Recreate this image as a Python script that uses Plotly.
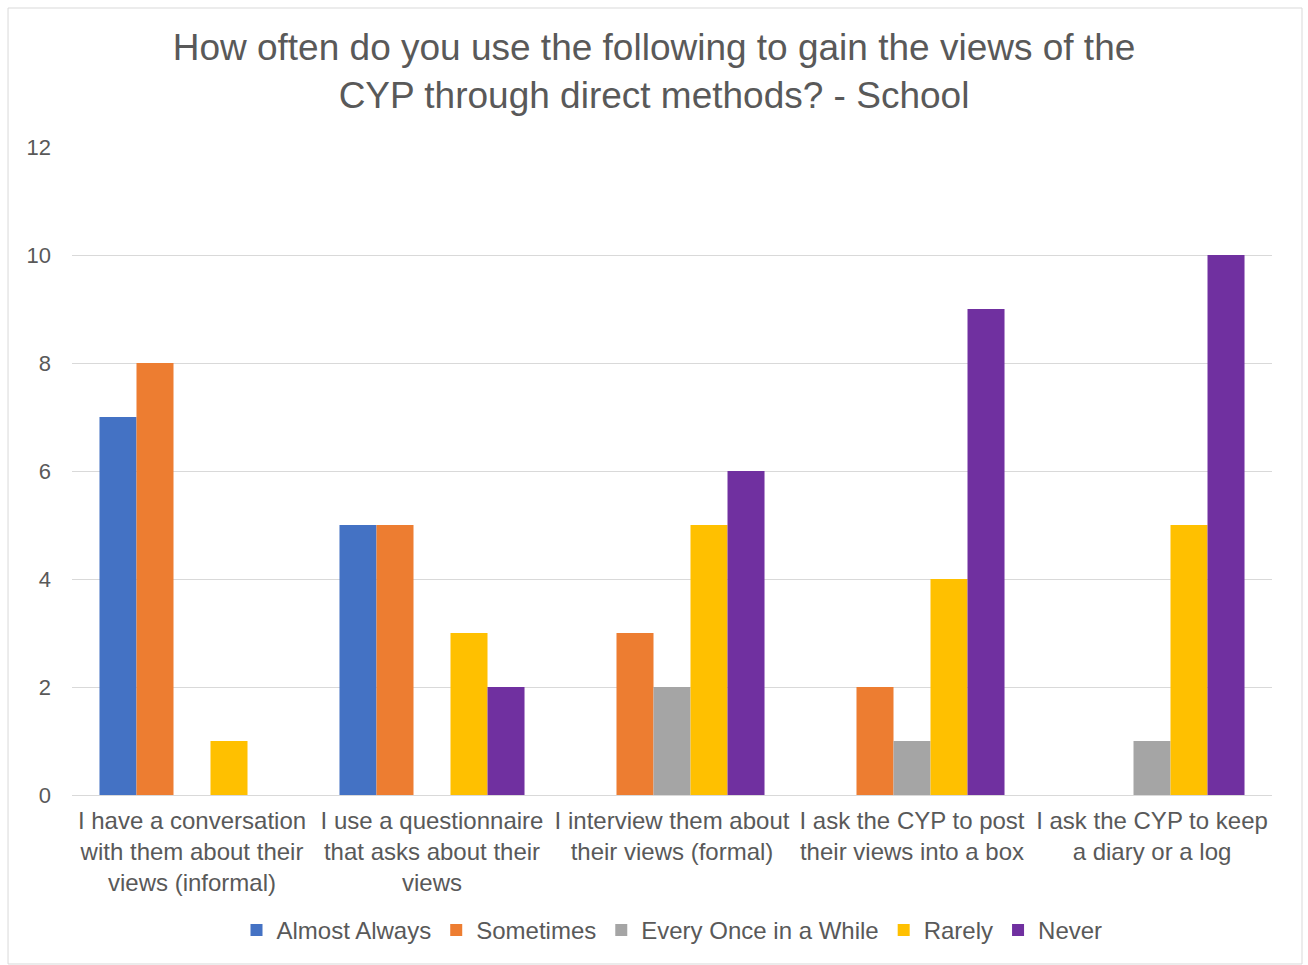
import plotly.graph_objects as go

categories = [
    "I have a conversation<br>with them about their<br>views (informal)",
    "I use a questionnaire<br>that asks about their<br>views",
    "I interview them about<br>their views (formal)",
    "I ask the CYP to post<br>their views into a box",
    "I ask the CYP to keep<br>a diary or a log",
]
almost_always = [7, 5, 0, 0, 0]
sometimes = [8, 5, 3, 2, 0]
every_once = [0, 0, 2, 1, 1]
rarely = [1, 3, 5, 4, 5]
never = [0, 2, 6, 9, 10]

series = [
    ("Almost Always", almost_always, "#4472C4"),
    ("Sometimes", sometimes, "#ED7D31"),
    ("Every Once in a While", every_once, "#A5A5A5"),
    ("Rarely", rarely, "#FFC000"),
    ("Never", never, "#7030A0"),
]

font = "Liberation Sans, Arial, sans-serif"
grey = "#595959"

fig = go.Figure()
for name, vals, color in series:
    fig.add_trace(go.Bar(x=categories, y=vals, name=name, marker_color=color,
                         marker_line_width=0))

fig.update_layout(
    width=1308, height=965,
    paper_bgcolor="white", plot_bgcolor="white",
    margin=dict(l=72, r=36, t=147, b=170),
    barmode="group", bargap=0.229, bargroupgap=0,
    font=dict(family=font, color=grey, size=24),
    title=dict(
        text="How often do you use the following to gain the views of the<br>CYP through direct methods? - School",
        x=0.5, xanchor="center", y=0.938, yanchor="middle",
        font=dict(family=font, size=37, color=grey),
    ),
    legend=dict(orientation="h", x=0.5, xanchor="center", y=-0.209, yanchor="middle",
                font=dict(family=font, size=24, color=grey), itemwidth=30,
                traceorder="normal", tracegroupgap=0),
    yaxis=dict(range=[0, 12], dtick=2, gridcolor="#D9D9D9", gridwidth=1,
               zeroline=False, showline=False, ticks="", ticklabelstandoff=20,
               tickfont=dict(size=22, color=grey)),
    xaxis=dict(showline=True, linecolor="#D9D9D9", linewidth=1, ticks="",
               tickfont=dict(size=24, color=grey), tickangle=0,
               ticklabelstandoff=4),
    shapes=[dict(type="rect", xref="paper", yref="paper",
                 x0=-0.0533, x1=1.025, y0=-0.2608, y1=1.2145,
                 line=dict(color="#D9D9D9", width=1))],
)

fig.write_html("out.html")
